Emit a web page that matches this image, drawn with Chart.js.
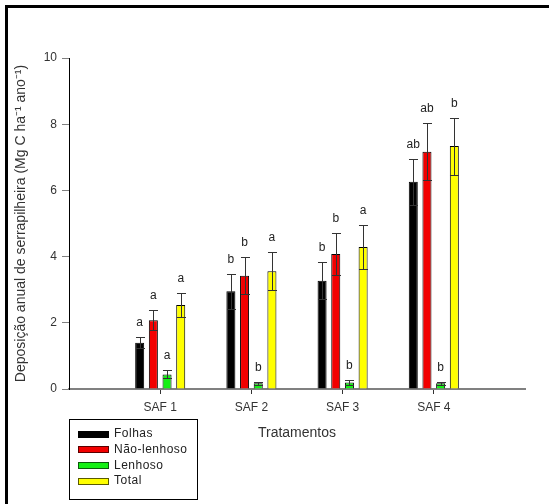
<!DOCTYPE html>
<html>
<head>
<meta charset="utf-8">
<script src="https://cdn.jsdelivr.net/npm/chart.js@4"></script>
<style>
  html, body { margin: 0; padding: 0; background: #fff; }
  #wrap { width: 549px; height: 504px; }
</style>
</head>
<body>
<div id="wrap"><canvas id="deposicao" width="549" height="504"></canvas></div>
<script>
// valores (Mg C ha-1 ano-1)
var tratamentos = ["SAF 1", "SAF 2", "SAF 3", "SAF 4"];
var yTicks = [0, 2, 4, 6, 8, 10];

var folhas = [1.40, 2.95, 3.27, 6.26];
var folhasErro = [0.16, 0.52, 0.56, 0.70];
var folhasLetras = ["a", "b", "b", "ab"];

var naoLenhoso = [2.08, 3.42, 4.08, 7.17];
var naoLenhosoErro = [0.31, 0.56, 0.63, 0.86];
var naoLenhosoLetras = ["a", "b", "b", "ab"];

var lenhoso = [0.44, 0.17, 0.20, 0.17];
var lenhosoErro = [0.12, 0.05, 0.07, 0.04];
var lenhosoLetras = ["a", "b", "b", "b"];

var total = [2.54, 3.56, 4.29, 7.34];
var totalErro = [0.36, 0.57, 0.66, 0.86];
var totalLetras = ["a", "a", "a", "b"];

// categorias vazias nas pontas para o eixo ir de 0 a 5
var rotulos = [""].concat(tratamentos, [""]);
function comPontas(arr) { return [null].concat(arr, [null]); }

var fonte = "'Liberation Sans', Arial, sans-serif";

var series = [
    { label: "Folhas", data: folhas, erro: folhasErro, letras: folhasLetras, cor: "#000000", borda: "#000000" },
    { label: "Não-lenhoso", data: naoLenhoso, erro: naoLenhosoErro, letras: naoLenhosoLetras, cor: "#f20000", borda: "#5a0000" },
    { label: "Lenhoso", data: lenhoso, erro: lenhosoErro, letras: lenhosoLetras, cor: "#14f014", borda: "#0a5a0a" },
    { label: "Total", data: total, erro: totalErro, letras: totalLetras, cor: "#ffff00", borda: "#5a5a00" }
];

var moldura = {
    id: "moldura",
    beforeDraw: function (chart) {
        var ctx = chart.ctx;
        ctx.save();
        ctx.fillStyle = "#ffffff";
        ctx.fillRect(0, 0, chart.width, chart.height);
        ctx.fillStyle = "#000000";
        ctx.fillRect(5, 5, 3, chart.height);
        ctx.fillRect(5, 5, chart.width, 3);
        ctx.restore();
    }
};

var barrasErro = {
    id: "barrasErro",
    afterDatasetsDraw: function (chart) {
        var ctx = chart.ctx;
        var y = chart.scales.y;
        ctx.save();
        chart.data.datasets.forEach(function (ds, i) {
            var meta = chart.getDatasetMeta(i);
            meta.data.forEach(function (el, j) {
                var v = ds.data[j];
                if (v === null) return;
                var e = ds.erro[j];
                var x = Math.round(el.x) + 0.5;
                var half = el.width / 2;
                var yTop = Math.round(y.getPixelForValue(v + e)) + 0.5;
                var yLow = Math.round(y.getPixelForValue(v - e)) + 0.5;
                ctx.strokeStyle = "#333333";
                ctx.lineWidth = 1;
                ctx.beginPath();
                ctx.moveTo(x, yTop); ctx.lineTo(x, yLow);
                ctx.moveTo(x - half, yTop); ctx.lineTo(x + half, yTop);
                ctx.moveTo(x - half, yLow); ctx.lineTo(x + half, yLow);
                ctx.stroke();
                ctx.fillStyle = "#222222";
                ctx.font = "12px " + fonte;
                ctx.textAlign = "center";
                ctx.textBaseline = "middle";
                ctx.fillText(ds.letras[j], el.x, yTop - 15);
            });
        });
        ctx.restore();
    }
};

var legenda = {
    id: "legenda",
    afterDraw: function (chart) {
        var ctx = chart.ctx;
        ctx.save();
        ctx.strokeStyle = "#000000";
        ctx.lineWidth = 1;
        ctx.strokeRect(69.5, 419.5, 128, 80);
        ctx.font = "12px " + fonte;
        ctx.letterSpacing = "0.5px";
        ctx.textAlign = "left";
        ctx.textBaseline = "middle";
        chart.data.datasets.forEach(function (ds, i) {
            var yc = 434 + i * 15.7;
            ctx.fillStyle = ds.backgroundColor;
            ctx.fillRect(78, Math.round(yc - 3.5), 31, 7);
            ctx.strokeStyle = ds.legendaBorda;
            ctx.strokeRect(78.5, Math.round(yc - 3.5) + 0.5, 30, 6);
            ctx.fillStyle = "#222222";
            ctx.fillText(ds.label, 114, yc);
        });
        ctx.restore();
    }
};

new Chart(document.getElementById("deposicao"), {
    type: "bar",
    data: {
        labels: rotulos,
        datasets: series.map(function (s) {
            return {
                label: s.label,
                data: comPontas(s.data),
                erro: comPontas(s.erro),
                letras: comPontas(s.letras),
                backgroundColor: s.cor,
                legendaBorda: s.borda,
                borderColor: "#000000",
                borderWidth: 1,
                categoryPercentage: 0.6,
                barPercentage: 0.66
            };
        })
    },
    options: {
        responsive: false,
        animation: false,
        layout: { padding: { left: 8, top: 58, right: 24, bottom: 0 } },
        plugins: {
            legend: { display: false },
            tooltip: { enabled: false }
        },
        scales: {
            x: {
                offset: false,
                afterFit: function (s) { s.height = 115; },
                border: { display: true, color: "#808080", width: 2 },
                grid: {
                    offset: false,
                    drawOnChartArea: false,
                    drawTicks: true,
                    tickLength: 5,
                    color: function (c) { return c.tick && c.tick.label ? "#333333" : "rgba(0,0,0,0)"; }
                },
                ticks: {
                    autoSkip: false,
                    maxRotation: 0,
                    padding: 6,
                    color: "#333333",
                    font: { family: fonte, size: 12 }
                },
                title: {
                    display: true,
                    text: "Tratamentos",
                    color: "#333333",
                    font: { family: fonte, size: 14 },
                    padding: { top: 0, bottom: 62 }
                }
            },
            y: {
                min: 0,
                max: 10,
                afterFit: function (s) { s.width = 61; },
                afterBuildTicks: function (s) { s.ticks = yTicks.map(function (v) { return { value: v }; }); },
                border: { display: true, color: "#000000", width: 1 },
                grid: {
                    drawOnChartArea: false,
                    drawTicks: true,
                    tickLength: 7,
                    color: "#808080"
                },
                ticks: {
                    padding: 5,
                    color: "#333333",
                    font: { family: fonte, size: 12 }
                },
                title: {
                    display: true,
                    text: "Deposição anual de serrapilheira (Mg C ha⁻¹ ano⁻¹)",
                    color: "#333333",
                    font: { family: fonte, size: 14 },
                    padding: { top: 5, bottom: 0 }
                }
            }
        }
    },
    plugins: [moldura, barrasErro, legenda]
});
</script>
</body>
</html>
